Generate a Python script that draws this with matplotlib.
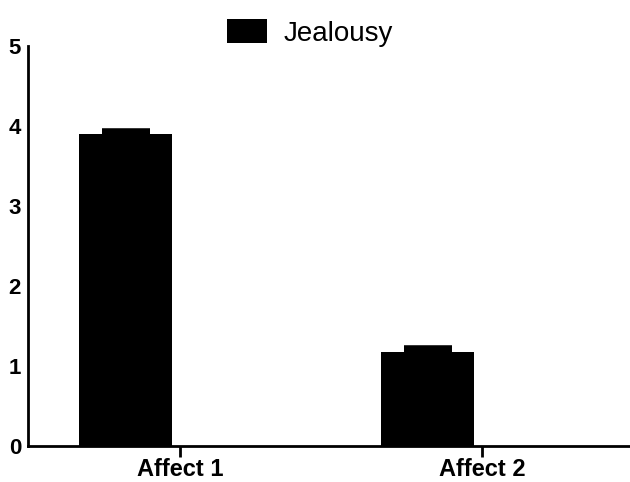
import matplotlib
matplotlib.use("Agg")
import matplotlib.pyplot as plt
import numpy as np

# bar chart of mean jealousy score per affect condition, SEM shown upward only
categories = ["Affect 1", "Affect 2"]
means = [3.90, 1.18]
sem = [0.035, 0.05]
series_name = "Jealousy"

plt.rcParams['font.family'] = ['Liberation Sans', 'DejaVu Sans']

fig = plt.figure(figsize=(6.3, 4.82), dpi=100)
ax = fig.add_axes([0.0444, 0.0747, 0.9556, 0.8299])

x = np.arange(len(categories))
width = 0.308
offset = -0.18  # single series sits in the left slot of each group

ax.bar(x + offset, means, width, color='black', label=series_name, zorder=2)
ax.errorbar(x + offset, means, yerr=[np.zeros(len(sem)), sem], fmt='none',
            ecolor='black', elinewidth=3, capsize=17, capthick=4, zorder=3)

ax.set_ylim(0, 5)
ax.set_xlim(-0.503, 1.49)
ax.set_yticks([0, 1, 2, 3, 4, 5])
ax.set_xticks(x)
ax.set_xticklabels(categories, fontsize=17, fontweight='bold')
for lab in ax.get_yticklabels():
    lab.set_fontsize(16)
    lab.set_fontweight('bold')

ax.tick_params(axis='y', length=0, pad=5)
ax.tick_params(axis='x', length=8, width=2, pad=1, direction='out')

for side in ['top', 'right']:
    ax.spines[side].set_visible(False)
for side in ['left', 'bottom']:
    ax.spines[side].set_linewidth(2)

ax.legend(loc='center', bbox_to_anchor=(310 / 630, 0.932),
          bbox_transform=fig.transFigure, frameon=False, fontsize=20,
          handlelength=1.45, handleheight=0.95, handletextpad=0.6)

fig.savefig("out.png", dpi=100)
